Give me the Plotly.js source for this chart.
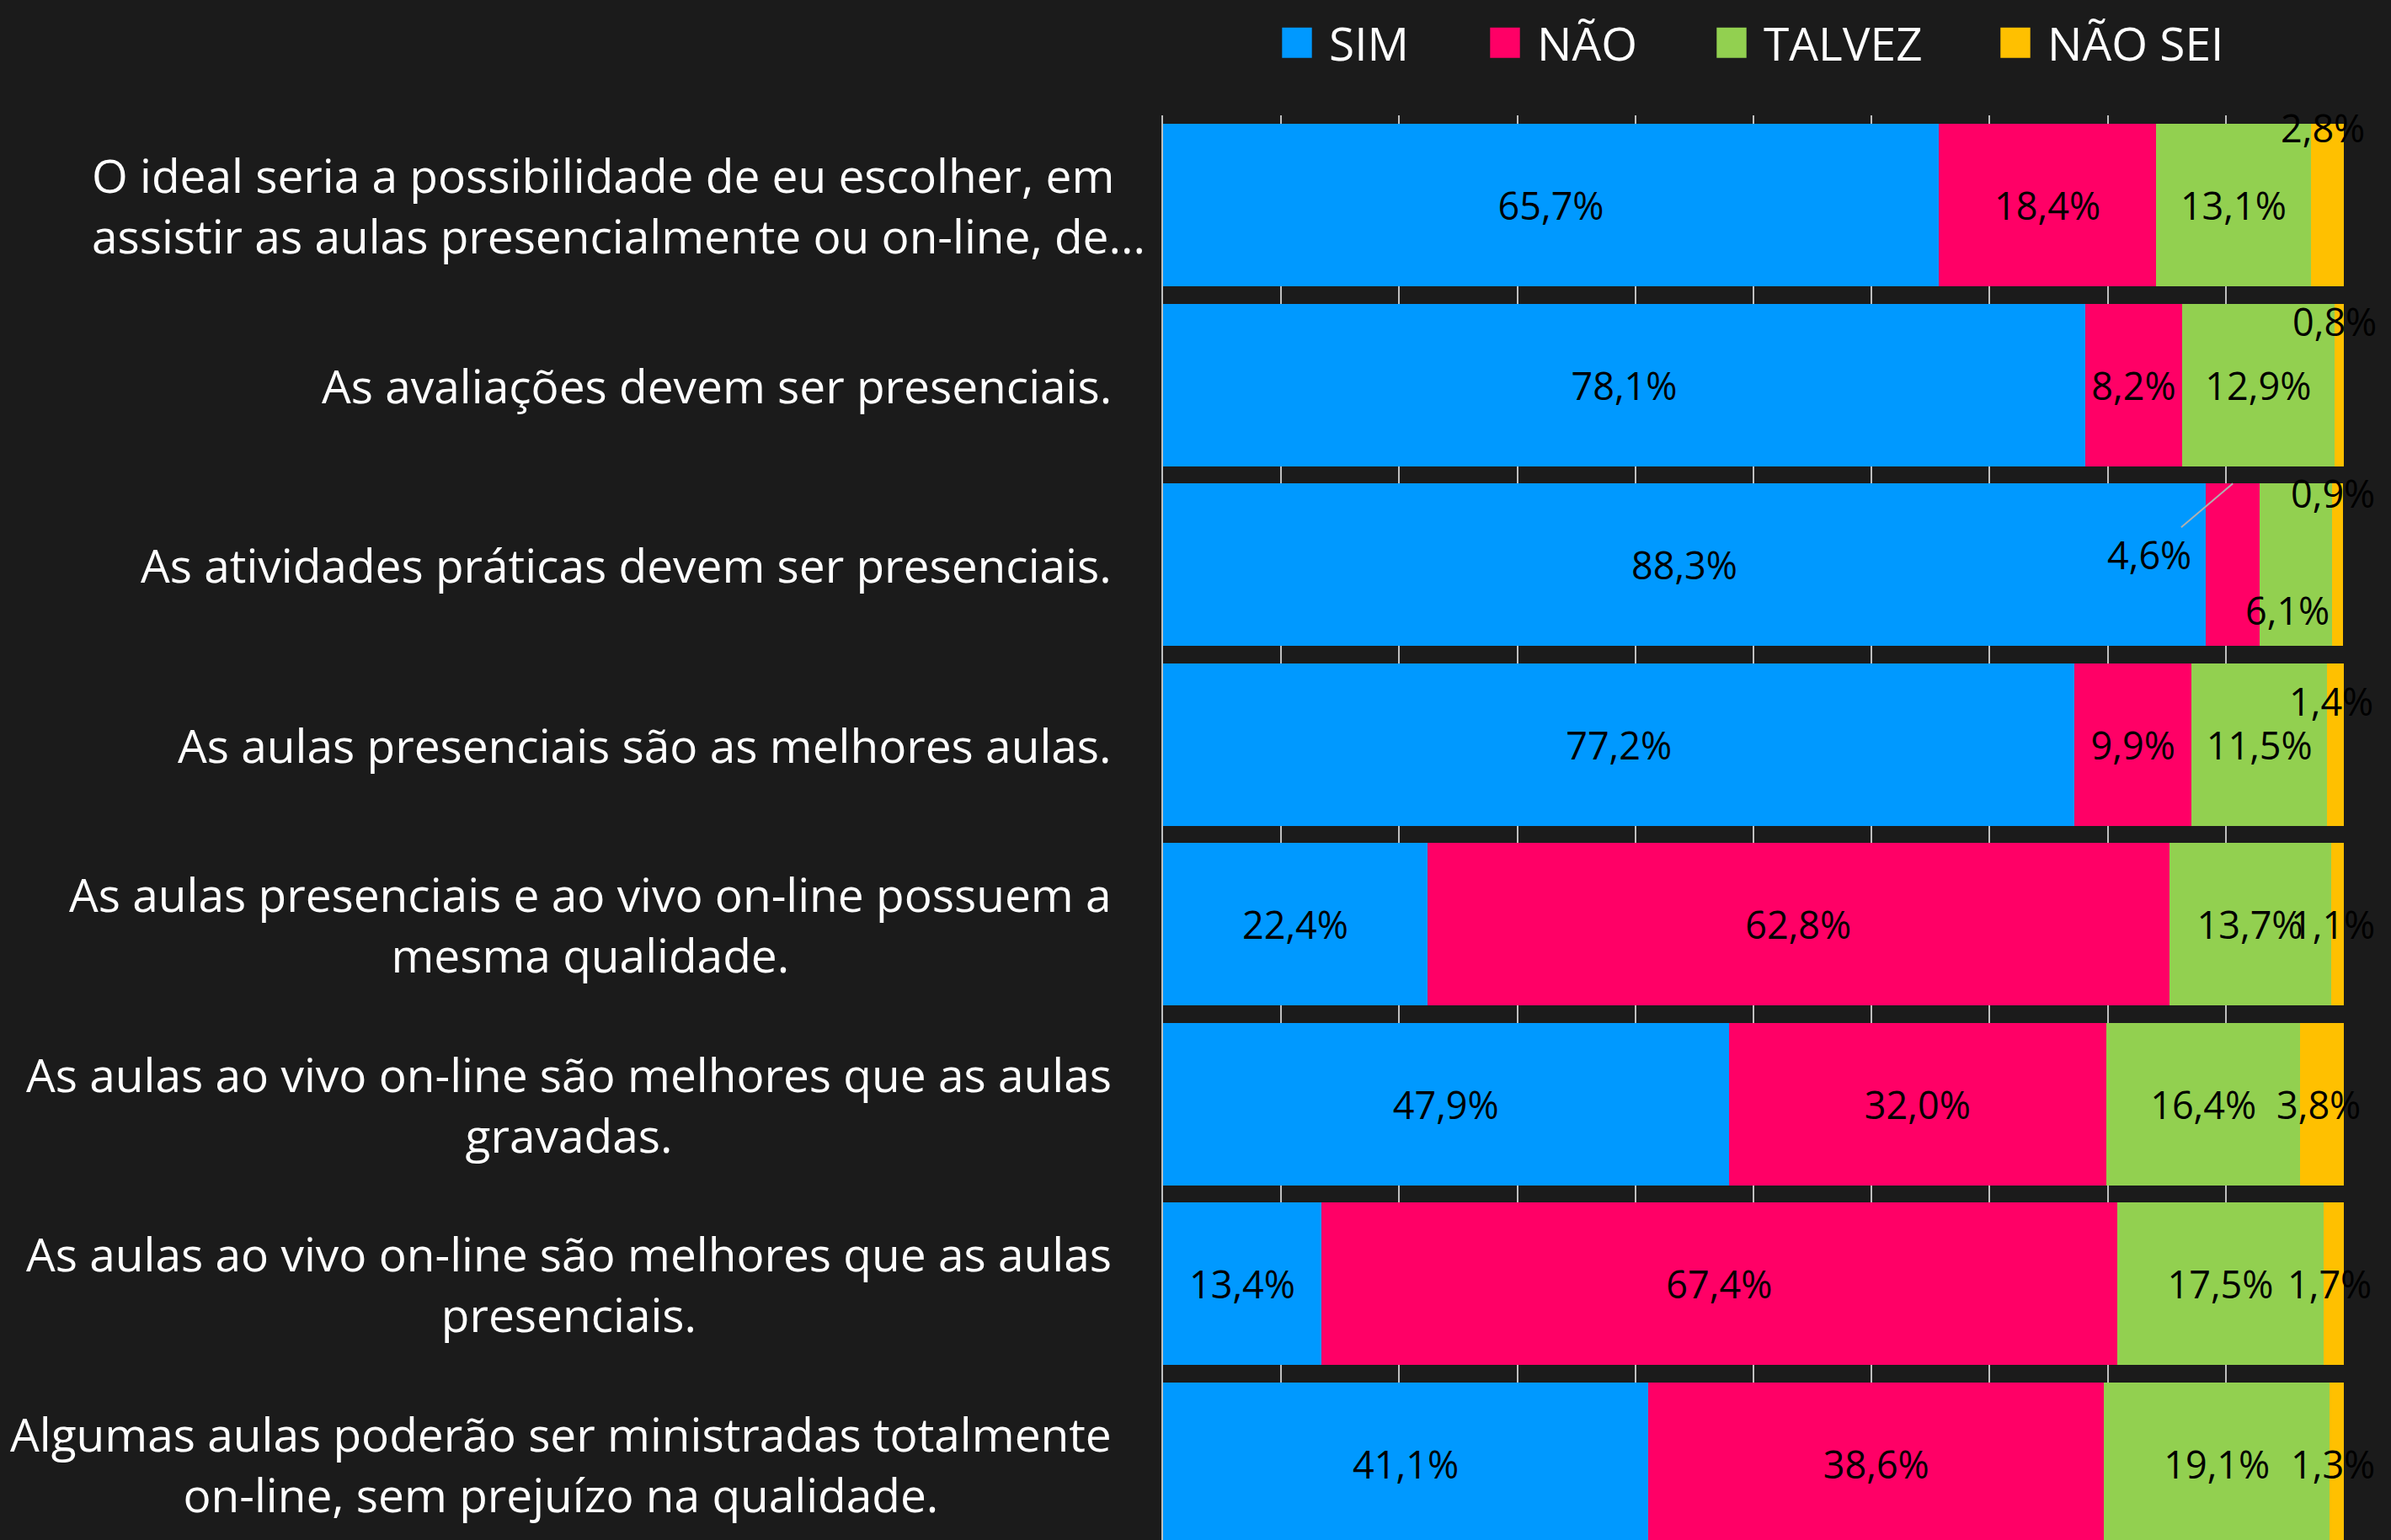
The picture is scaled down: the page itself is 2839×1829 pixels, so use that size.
<!DOCTYPE html>
<html>
<head>
<meta charset="utf-8">
<script src="https://cdn.plot.ly/plotly-3.0.1.min.js"></script>
<style>
html,body{margin:0;padding:0;background:#1b1b1b;overflow:hidden;}
</style>
</head>
<body>
<div id="chart" style="width:2839px;height:1829px;"></div>
<script>
// ---- data ----
const categoryLines = [
  ['O ideal seria a possibilidade de eu escolher, em', 'assistir as aulas presencialmente ou on-line, de...'],
  ['As avaliações devem ser presenciais.'],
  ['As atividades práticas devem ser presenciais.'],
  ['As aulas presenciais são as melhores aulas.'],
  ['As aulas presenciais e ao vivo on-line possuem a', 'mesma qualidade.'],
  ['As aulas ao vivo on-line são melhores que as aulas', 'gravadas.'],
  ['As aulas ao vivo on-line são melhores que as aulas', 'presenciais.'],
  ['Algumas aulas poderão ser ministradas totalmente', 'on-line, sem prejuízo na qualidade.']
];
const seriesNames = ['SIM', 'NÃO', 'TALVEZ', 'NÃO SEI'];
const sim    = [65.7, 78.1, 88.3, 77.2, 22.4, 47.9, 13.4, 41.1];
const nao    = [18.4,  8.2,  4.6,  9.9, 62.8, 32.0, 67.4, 38.6];
const talvez = [13.1, 12.9,  6.1, 11.5, 13.7, 16.4, 17.5, 19.1];
const naoSei = [ 2.8,  0.8,  0.9,  1.4,  1.1,  3.8,  1.7,  1.3];

// ---- style ----
const colors = ['#0099FF', '#FF0066', '#92D050', '#FFC000'];
const FONT = '"Segoe UI", "Open Sans", sans-serif';
const labelSize = 45;
const catSize = 55;
const legendSize = 55;
const bargap = 0.095;
const labelXShift = [-19, -59, -59, -59, -59, -59, -59, -59];
const labelAlign = ['left', 'center', 'center', 'center', 'center', 'center', 'center', 'center'];
const naoSeiYShift = [92, 76, 85, 52, 0, 0, 0, 0];
const legendSymbolCenters = [1563, 1810, 2079, 2416]; // px, container
const special = 2; // row whose NÃO / TALVEZ labels are moved

const categories = categoryLines.map(l => l.join(' '));
const series = [sim, nao, talvez, naoSei];
const fmt = v => v.toFixed(1).replace('.', ',') + '%';

const traces = series.map((vals, si) => ({
  type: 'bar',
  orientation: 'h',
  name: seriesNames[si],
  x: vals,
  y: categories,
  marker: {color: colors[si], line: {width: 0}},
  texttemplate: '%{x:.1f}%',
  textposition: vals.map((v, i) => (si === 3 || (i === special && (si === 1 || si === 2))) ? 'none' : 'inside'),
  insidetextanchor: 'middle',
  constraintext: 'none',
  textangle: 0,
  insidetextfont: {family: FONT, size: labelSize, color: '#000000'},
  hoverinfo: 'skip',
  legend: si === 0 ? 'legend' : 'legend' + (si + 1)
}));

const annotations = [];
// category labels
categoryLines.forEach((lines, i) => {
  annotations.push({
    xref: 'paper', x: 0, xanchor: 'right', xshift: labelXShift[i],
    yref: 'y', y: categories[i], yanchor: 'middle',
    text: lines.join('<br>'), align: labelAlign[i], showarrow: false,
    font: {family: FONT, size: catSize, color: '#ffffff'}
  });
});
// NÃO SEI labels
naoSei.forEach((v, i) => {
  annotations.push({
    xref: 'x', x: sim[i] + nao[i] + talvez[i] + v / 2, xshift: -5,
    yref: 'y', y: categories[i], yshift: naoSeiYShift[i],
    text: fmt(v), showarrow: false,
    font: {family: FONT, size: labelSize, color: '#000000'}
  });
});
// special row: NÃO label with leader line
annotations.push({
  xref: 'x', x: sim[special] + nao[special] / 2,
  yref: 'y', y: special - (1 - bargap) / 2,
  text: fmt(nao[special]), showarrow: true, arrowhead: 0, arrowwidth: 2,
  arrowcolor: '#b0b0b0', ax: -99, ay: 84, standoff: 0,
  font: {family: FONT, size: labelSize, color: '#000000'}
});
// special row: TALVEZ label lowered
annotations.push({
  xref: 'x', x: sim[special] + nao[special] + talvez[special] / 2, xshift: -10,
  yref: 'y', y: categories[special], yshift: -54,
  text: fmt(talvez[special]), showarrow: false,
  font: {family: FONT, size: labelSize, color: '#000000'}
});

const W = 2839, H = 1829;
const layout = {
  width: W, height: H,
  paper_bgcolor: '#1b1b1b', plot_bgcolor: '#1b1b1b',
  margin: {l: 1381, r: 56, t: 137, b: 0, pad: 0},
  barmode: 'stack',
  bargap: bargap,
  separators: ',.',
  font: {family: FONT, color: '#ffffff'},
  xaxis: {
    range: [0, 100], tick0: 0, dtick: 10, showgrid: true, gridcolor: '#bfbfbf', gridwidth: 2,
    showticklabels: false, ticks: '', zeroline: false, showline: false, fixedrange: true, automargin: false
  },
  yaxis: {
    type: 'category', categoryorder: 'array', categoryarray: categories,
    range: [7.425, -0.5], showticklabels: false, ticks: '', showgrid: false, zeroline: false,
    showline: true, linecolor: '#bfbfbf', linewidth: 2, fixedrange: true, automargin: false
  },
  showlegend: true,
  annotations: annotations
};
seriesNames.forEach((n, si) => {
  const key = si === 0 ? 'legend' : 'legend' + (si + 1);
  layout[key] = {
    orientation: 'h', xref: 'container', yref: 'container',
    x: (legendSymbolCenters[si] - 25) / W, xanchor: 'left',
    y: 1 - 51 / H, yanchor: 'middle',
    bgcolor: 'rgba(0,0,0,0)', borderwidth: 0,
    font: {family: FONT, size: legendSize, color: '#ffffff'}
  };
});

Plotly.newPlot('chart', traces, layout, {staticPlot: true, displayModeBar: false}).then(() => {
  document.querySelectorAll('.infolayer [clip-path]').forEach(el => {
    if (el.closest('[class^="legend"]') || /legend/.test(el.getAttribute('clip-path'))) {
      el.removeAttribute('clip-path');
    }
  });
  document.querySelectorAll('g.legendpoints path').forEach(p => {
    const t = p.getAttribute('transform') || '';
    p.setAttribute('transform', t + ' translate(-18,0) scale(2.95,3.0)');
  });
});
</script>
</body>
</html>
